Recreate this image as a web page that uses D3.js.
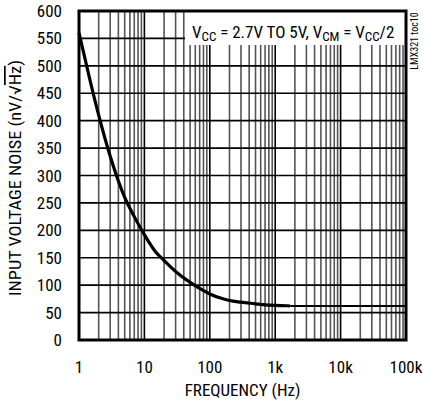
<!DOCTYPE html>
<html><head><meta charset="utf-8">
<script src="https://cdn.jsdelivr.net/npm/d3@7"></script>
<style>
body{margin:0;background:#fff;}
text{font-family:"Liberation Sans Narrow","Roboto Condensed","Liberation Sans",sans-serif;fill:#000;}
</style></head>
<body><svg id="c" width="423" height="403"></svg>
<script>
const freq  = [1,1.5,2,3,4,5,7,10,15,20,30,50,70,100,150,200,300,500,700,1000,1500,1700,2000,10000,100000];
const noise = [560,470,410,335,290,260,225,192,160,145,125,105,94,84,76,72,69,66,64,63,62.5,62,62,62,62];
const xTickValues = [1,10,100,1000,10000,100000];
const xTickLabels = ["1","10","100","1k","10k","100k"];
const yTickValues = [0,50,100,150,200,250,300,350,400,450,500,550,600];

const svg = d3.select("#c");
const L=79,R=406,T=11,B=340;
const x = d3.scaleLog().domain([1,1e5]).range([L,R]);
const y = d3.scaleLinear().domain([0,600]).range([B,T]);

// minor vertical grid
const minor=[];
for(let d=1; d<1e5; d*=10) for(let k=2;k<=9;k++) minor.push(d*k);
svg.append("g").selectAll("line").data(minor).join("line")
  .attr("x1",d=>x(d)).attr("x2",d=>x(d)).attr("y1",T).attr("y2",B)
  .attr("stroke","#555").attr("stroke-width",1.6);
svg.append("g").selectAll("line").data(xTickValues).join("line")
  .attr("x1",d=>x(d)).attr("x2",d=>x(d)).attr("y1",T).attr("y2",B)
  .attr("stroke","#000").attr("stroke-width",1.6);
svg.append("g").selectAll("line").data(yTickValues).join("line")
  .attr("x1",L).attr("x2",R).attr("y1",d=>y(d)).attr("y2",d=>y(d))
  .attr("stroke","#000").attr("stroke-width",1.6);

// label box
svg.append("rect").attr("x",185).attr("y",T+1).attr("width",R-186).attr("height",33).attr("fill","#fff");
const t = svg.append("text").attr("x",192).attr("y",38).attr("font-size",17);
t.append("tspan").text("V");
t.append("tspan").text("CC").attr("font-size",13).attr("dy",3);
t.append("tspan").text(" = 2.7V TO 5V, V").attr("dy",-3);
t.append("tspan").text("CM").attr("font-size",13).attr("dy",3);
t.append("tspan").text(" = V").attr("dy",-3);
t.append("tspan").text("CC").attr("font-size",13).attr("dy",3);
t.append("tspan").text("/2").attr("dy",-3);

// curve
const pts = freq.map((f,i)=>[f,noise[i]]);
const line = d3.line().x(d=>x(d[0])).y(d=>y(d[1])).curve(d3.curveMonotoneX);
const cut = freq.indexOf(1700);
svg.append("path").attr("d",line(pts.slice(0,cut+1))).attr("fill","none").attr("stroke","#000").attr("stroke-width",3.2);
svg.append("path").attr("d",line(pts.slice(cut))).attr("fill","none").attr("stroke","#000").attr("stroke-width",2);

// frame
svg.append("rect").attr("x",L).attr("y",T).attr("width",R-L).attr("height",B-T)
  .attr("fill","none").attr("stroke","#000").attr("stroke-width",3);

// axes labels
svg.append("g").selectAll("text").data(yTickValues).join("text")
  .attr("x",62).attr("y",d=>y(d)+6).attr("text-anchor","end").attr("font-size",17).text(d=>d);
svg.append("g").selectAll("text").data(xTickValues).join("text")
  .attr("x",d=>x(d)).attr("y",373).attr("text-anchor","middle").attr("font-size",17).text((d,i)=>xTickLabels[i]);
svg.append("text").attr("x",(L+R)/2).attr("y",396).attr("text-anchor","middle").attr("font-size",17).text("FREQUENCY (Hz)");
const yt = svg.append("text").attr("transform","translate(21,178) rotate(-90)").attr("text-anchor","middle")
  .attr("font-size",17).attr("textLength",236).attr("lengthAdjust","spacingAndGlyphs");
yt.append("tspan").text("INPUT VOLTAGE NOISE (nV/√");
yt.append("tspan").text("Hz").attr("text-decoration","overline");
yt.append("tspan").text(")");
svg.append("text").attr("transform","translate(418,41) rotate(-90)").attr("text-anchor","middle").attr("font-size",10).text("LMX321 toc10");
</script></body></html>
